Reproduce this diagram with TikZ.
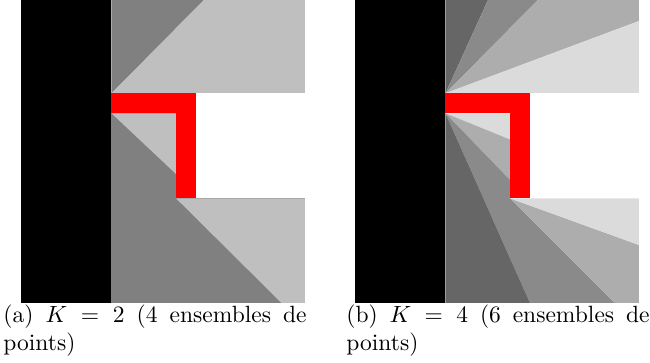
\documentclass[tikz,border=0pt]{standalone}
\usepackage{tikz}
\definecolor{grisA}{gray}{0.5}
\definecolor{clairA}{gray}{0.75}
\definecolor{grisUn}{gray}{0.4}
\definecolor{grisDeux}{gray}{0.54}
\definecolor{grisTrois}{gray}{0.68}
\definecolor{grisQuatre}{gray}{0.86}
\tikzset{
  legende/.style={anchor=north west, text width=129pt, align=justify, inner sep=0pt},
}
\begin{document}
\begin{tikzpicture}[x=0.4255pt,y=-0.4255pt]
        \useasboundingbox (0,0) rectangle (650,363);

        % (a) K = 2 : deux zones grises
        \begin{scope}[shift={(21,0)}]
        \coordinate (P) at (90.5,93.3);
        \coordinate (Q) at (90.5,113.3);
        \coordinate (R) at (155,198.3);

        \fill[grisA] (P) -- (90.5,0) -- (183,0) -- cycle;
        \fill[clairA] (183,0) -- (284,0) -- (284,93.3) -- (P) -- cycle;
        \fill[grisA] (Q) rectangle (284,303);
        \fill[clairA] (Q) -- (155,113.3) -- (155,174) -- cycle;
        \fill[clairA] (R) -- (284,198.3) -- (284,303) -- (260.5,303) -- cycle;

        % obstacle et zone libre
        \fill[white] (175.5,93.3) rectangle (284,198.3);
        \fill[black] (0,0) rectangle (90.5,303);
        \fill[red] (P) rectangle (175.5,113.3);
        \fill[red] (155,93.3) rectangle (175.5,198.3);
        \end{scope}

        % (b) K = 4 : quatre zones grises
        \begin{scope}[shift={(355,0)}]
        \coordinate (P) at (90.5,93.3);
        \coordinate (Q) at (90.5,113.3);
        \coordinate (R) at (155,198.3);

        % eventail du haut
        \fill[grisUn] (P) -- (90.5,0) -- (133,0) -- cycle;
        \fill[grisDeux] (P) -- (133,0) -- (183,0) -- cycle;
        \fill[grisTrois] (P) -- (183,0) -- (284,0) -- (284,21) -- cycle;
        \fill[grisQuatre] (P) -- (284,21) -- (284,93.3) -- cycle;

        % eventail du bas
        \fill[grisQuatre] (Q) -- (155,113.3) -- (155,139.5) -- cycle;
        \fill[grisTrois] (Q) -- (155,139.5) -- (155,180) -- cycle;
        \fill[grisDeux] (Q) -- (155,180) -- (R) -- (260,303) -- (175,303) -- cycle;
        \fill[grisUn] (Q) -- (175,303) -- (90.5,303) -- cycle;
        \fill[grisTrois] (R) -- (260,303) -- (284,303) -- (284,245) -- cycle;
        \fill[grisQuatre] (R) -- (284,245) -- (284,198.3) -- cycle;

        % obstacle et zone libre
        \fill[white] (175.5,93.3) rectangle (284,198.3);
        \fill[black] (0,0) rectangle (90.5,303);
        \fill[red] (P) rectangle (175.5,113.3);
        \fill[red] (155,93.3) rectangle (175.5,198.3);
        \end{scope}

        % legendes
        \node[legende] (legA) at (3,304) {(a) $K=2$ (4 ensembles de points)};
        \node[legende] (legB) at (346,304) {(b) $K=4$ (6 ensembles de points)};
    \end{tikzpicture}
\end{document}
